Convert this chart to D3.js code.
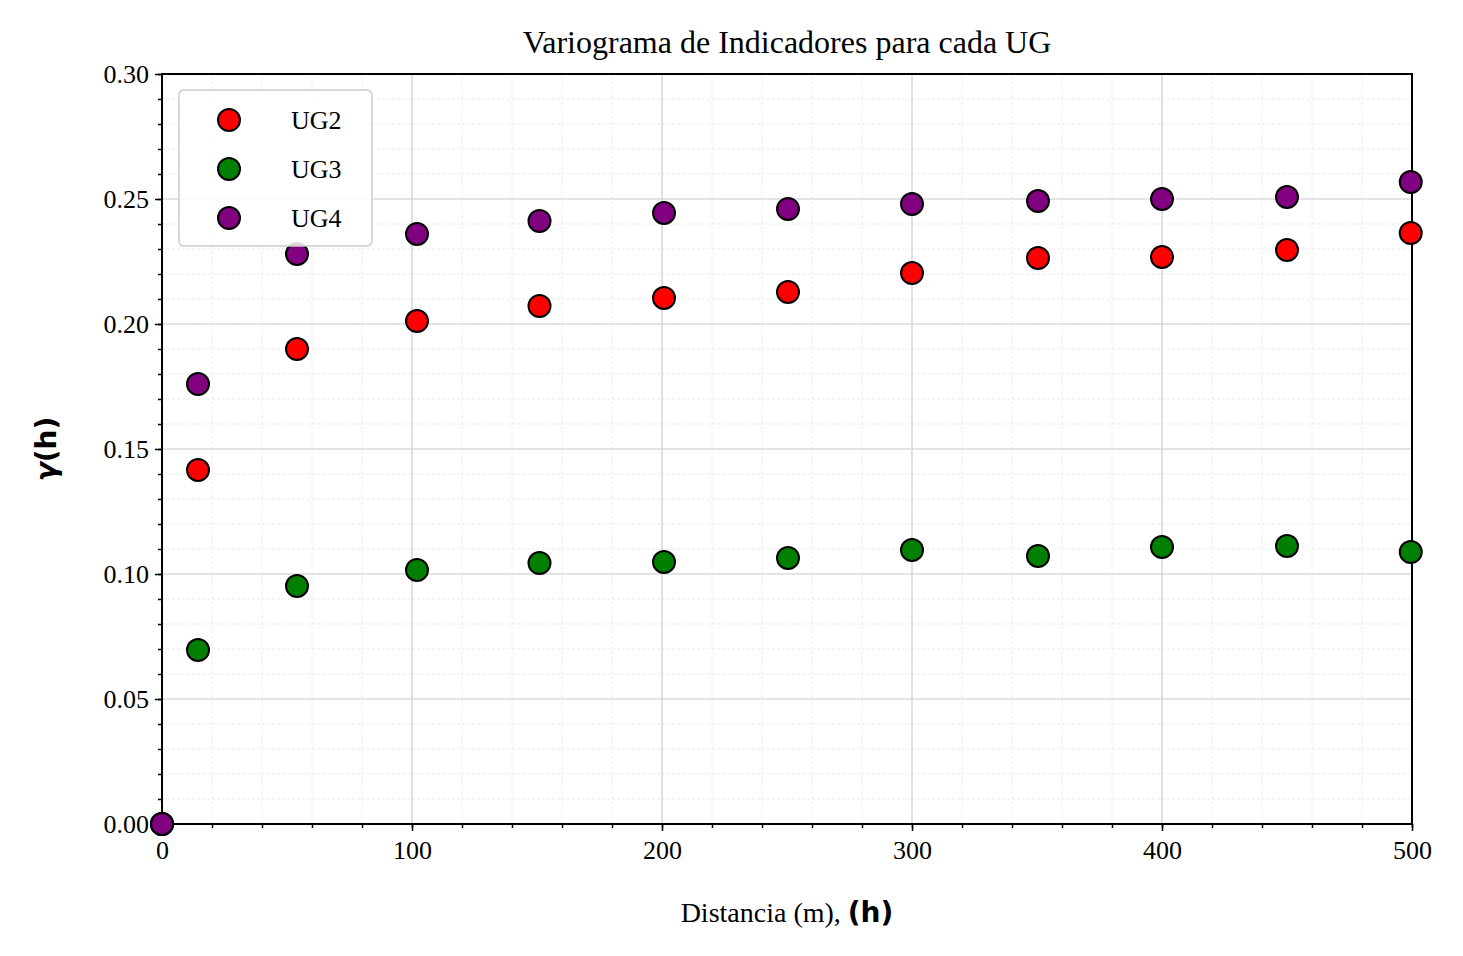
<!DOCTYPE html>
<html><head><meta charset="utf-8">
<script src="https://cdn.jsdelivr.net/npm/d3@7"></script>
<style>body{margin:0;background:#fff}svg{font-family:"Liberation Serif","DejaVu Serif",serif}</style>
</head><body><div id="container"></div>
<script>
const lags = [0, 14.4, 54, 102, 151, 200.8, 250.4, 300, 350.4, 400, 450, 499.5];
const ug2 = [0, 0.1416, 0.190, 0.2012, 0.2072, 0.2104, 0.2128, 0.2204, 0.2264, 0.2268, 0.2296, 0.2364];
const ug3 = [0, 0.0696, 0.0952, 0.1016, 0.1044, 0.1048, 0.1064, 0.1096, 0.1072, 0.1108, 0.1112, 0.1088];
const ug4 = [0, 0.176, 0.228, 0.236, 0.2412, 0.2444, 0.246, 0.248, 0.2492, 0.250, 0.2508, 0.2568];
const seriesNames = ['UG2', 'UG3', 'UG4'];
const seriesColors = ['#ff0000', '#007f00', '#800080'];
const xTicks = [0, 100, 200, 300, 400, 500];
const yTicks = [0, 0.05, 0.10, 0.15, 0.20, 0.25, 0.30];

const W = 1463, H = 956, m = {l: 162, r: 51, t: 74, b: 132};
const svg = d3.select('#container').append('svg').attr('width', W).attr('height', H);
const x = d3.scaleLinear().domain([0, 500]).range([m.l, W - m.r]);
const y = d3.scaleLinear().domain([0, 0.3]).range([H - m.b, m.t]);

// grid
const g = svg.append('g');
d3.range(0, 501, 20).forEach(v => g.append('line').attr('x1', x(v)).attr('x2', x(v)).attr('y1', y(0)).attr('y2', y(0.3))
    .attr('stroke', '#ddd').attr('stroke-width', 0.6).attr('stroke-dasharray', '3,2'));
d3.range(0, 0.3001, 0.01).forEach(v => g.append('line').attr('y1', y(v)).attr('y2', y(v)).attr('x1', x(0)).attr('x2', x(500))
    .attr('stroke', '#ddd').attr('stroke-width', 0.6).attr('stroke-dasharray', '3,2'));
xTicks.forEach(v => g.append('line').attr('x1', x(v)).attr('x2', x(v)).attr('y1', y(0)).attr('y2', y(0.3)).attr('stroke', '#d0d0d0').attr('stroke-width', 1.2));
yTicks.forEach(v => g.append('line').attr('y1', y(v)).attr('y2', y(v)).attr('x1', x(0)).attr('x2', x(500)).attr('stroke', '#d0d0d0').attr('stroke-width', 1.2));

// axes
const xa = svg.append('g').attr('transform', `translate(0,${y(0)})`)
    .call(d3.axisBottom(x).tickValues(xTicks).tickFormat(d3.format('d')).tickSize(7).tickPadding(10));
const xm = svg.append('g').attr('transform', `translate(0,${y(0)})`)
    .call(d3.axisBottom(x).tickValues(d3.range(0, 501, 20)).tickFormat('').tickSize(4));
const ya = svg.append('g').attr('transform', `translate(${x(0)},0)`)
    .call(d3.axisLeft(y).tickValues(yTicks).tickFormat(d3.format('.2f')).tickSize(7).tickPadding(6));
const ym = svg.append('g').attr('transform', `translate(${x(0)},0)`)
    .call(d3.axisLeft(y).tickValues(d3.range(0, 0.3001, 0.01)).tickFormat('').tickSize(4));
[xa, xm, ya, ym].forEach(a => { a.select('.domain').remove(); a.selectAll('line').attr('stroke', '#000').attr('stroke-width', 1.5); });
[xa, ya].forEach(a => a.selectAll('text').attr('font-size', 26).attr('fill', '#000').attr('font-family', '"Liberation Serif",serif'));
svg.append('rect').attr('x', x(0)).attr('y', y(0.3)).attr('width', x(500) - x(0)).attr('height', y(0) - y(0.3))
    .attr('fill', 'none').attr('stroke', '#000').attr('stroke-width', 2);

// points
[ug2, ug3, ug4].forEach((s, i) => {
    svg.append('g').selectAll('circle').data(s).join('circle')
        .attr('cx', (d, j) => x(lags[j])).attr('cy', d => y(d)).attr('r', 11)
        .attr('fill', seriesColors[i]).attr('stroke', '#000').attr('stroke-width', 2);
});

// legend
const lg = svg.append('g');
lg.append('rect').attr('x', 179).attr('y', 90).attr('width', 193).attr('height', 156).attr('rx', 5)
    .attr('fill', '#fff').attr('fill-opacity', 0.85).attr('stroke', '#ccc').attr('stroke-width', 1.5);
seriesNames.forEach((n, i) => {
    lg.append('circle').attr('cx', 229).attr('cy', 120 + i * 49).attr('r', 11).attr('fill', seriesColors[i]).attr('stroke', '#000').attr('stroke-width', 2);
    lg.append('text').attr('x', 291).attr('y', 129 + i * 49).attr('font-size', 26).text(n);
});

// titles
svg.append('text').attr('x', (x(0) + x(500)) / 2).attr('y', 53).attr('text-anchor', 'middle').attr('font-size', 32)
    .text('Variograma de Indicadores para cada UG');
const xl = svg.append('text').attr('x', (x(0) + x(500)) / 2).attr('y', 922).attr('text-anchor', 'middle').attr('font-size', 28);
xl.append('tspan').text('Distancia (m), ');
xl.append('tspan').attr('font-family', '"DejaVu Sans",sans-serif').attr('font-weight', 'bold').text('(h)');
const yl = svg.append('text').attr('transform', `translate(56,${(y(0) + y(0.3)) / 2}) rotate(-90)`).attr('text-anchor', 'middle')
    .attr('font-size', 28).attr('font-family', '"DejaVu Sans",sans-serif').attr('font-weight', 'bold');
yl.append('tspan').attr('font-style', 'italic').text('γ');
yl.append('tspan').text('(h)');
</script></body></html>
